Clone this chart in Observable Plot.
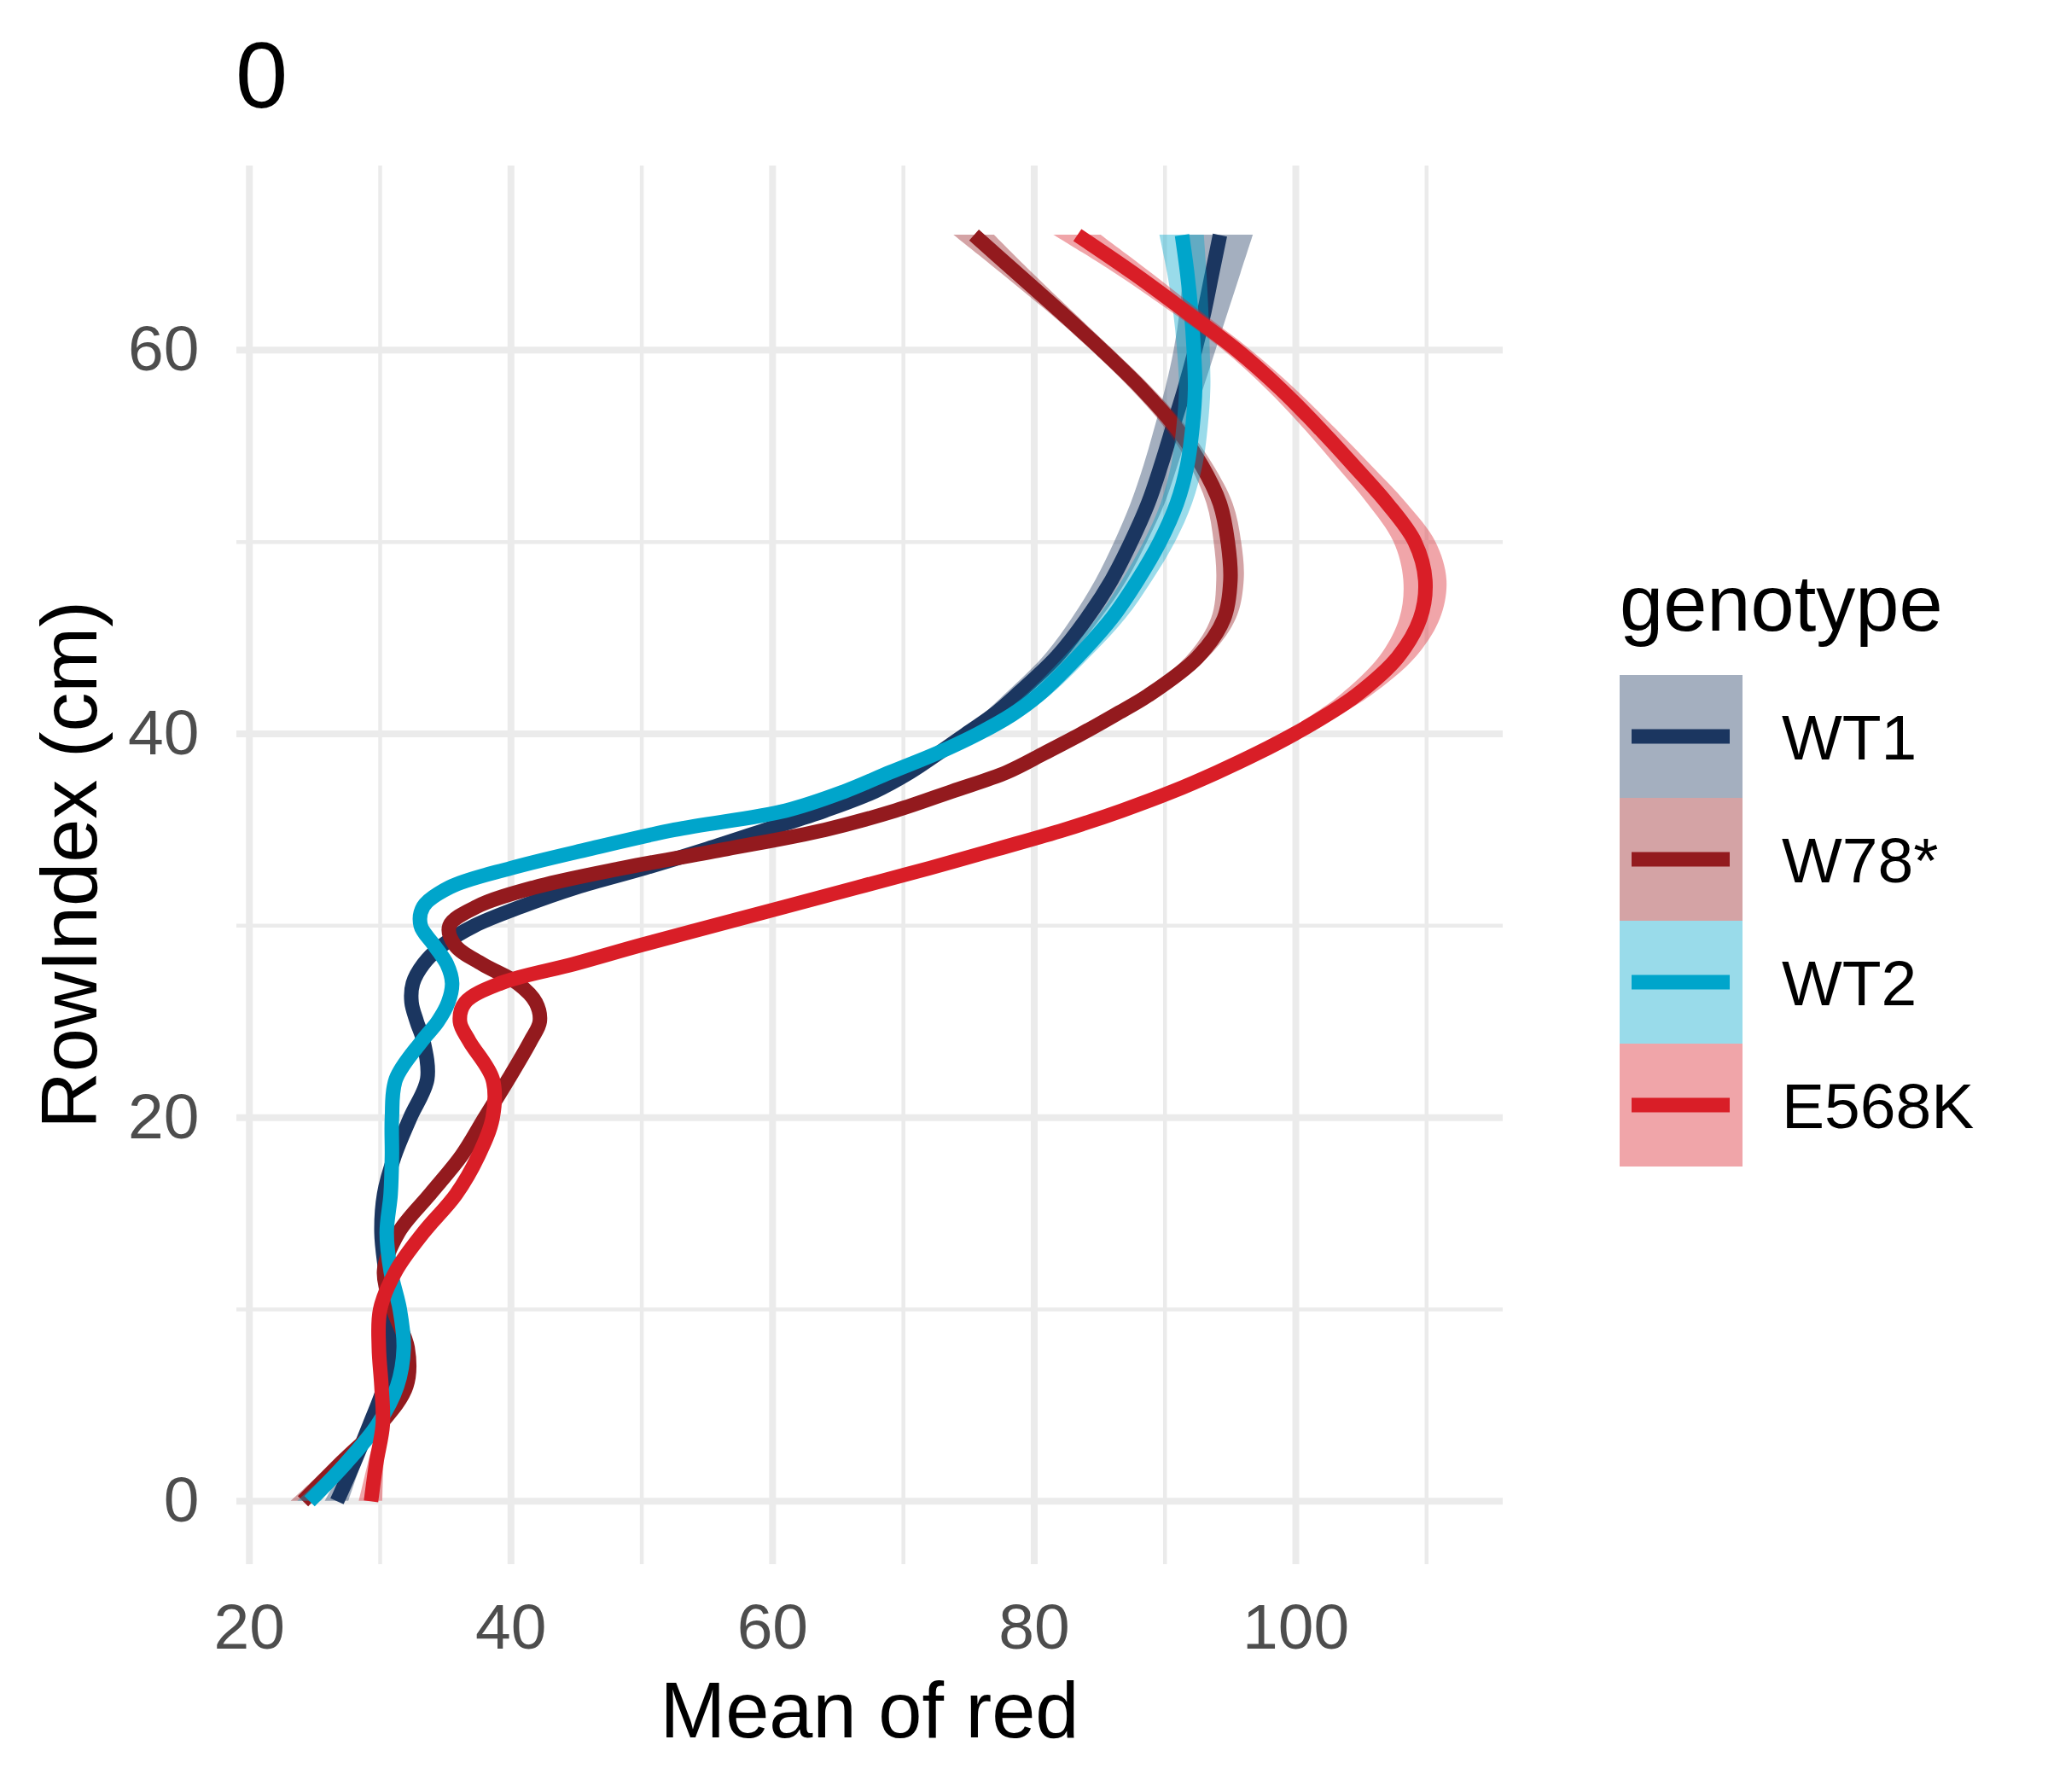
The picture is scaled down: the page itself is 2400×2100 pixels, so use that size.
<!DOCTYPE html>
<html>
<head>
<meta charset="utf-8">
<script src="https://cdn.jsdelivr.net/npm/d3@7"></script>
<script src="https://cdn.jsdelivr.net/npm/@observablehq/plot@0.6"></script>
<style>
  html, body { margin: 0; padding: 0; background: #ffffff; }
  #chart { width: 2400px; height: 2100px; }
</style>
</head>
<body>
<div id="chart"></div>
<script>
// ---- data ----
const genotypes = ["WT1", "W78*", "WT2", "E568K"];
const lineColors = ["#1b3660", "#931a1e", "#00a5cb", "#d91e27"];

const rowIndex = [0, 2, 4, 6, 8, 10, 12, 14, 16, 18, 20, 22,
  24, 25, 26, 27, 28, 29, 30, 31, 32, 33, 34, 35, 36, 37, 38, 39, 40, 41, 42,
  44, 46, 48, 50, 52, 54, 56, 58, 60, 62, 64, 66];

const meanWT1 = [26.7, 28.0, 29.2, 30.3, 30.8, 30.8, 30.4, 30.1, 30.3, 31.1, 32.3, 33.6,
  33.3, 32.8, 32.4, 32.5, 33.3, 34.8, 37.2, 40.8, 45.0, 50.2, 55.0, 59.5, 64.0, 67.8, 70.5, 72.7, 74.8, 76.9, 78.6,
  81.7, 84.0, 85.9, 87.4, 88.7, 89.7, 90.6, 91.5, 92.3, 93.0, 93.6, 94.2];

const meanW78 = [24.1, 27.0, 30.0, 32.0, 32.1, 31.0, 30.3, 31.4, 33.8, 36.2, 38.0, 39.8,
  41.5, 42.2, 41.9, 40.5, 37.8, 35.7, 35.3, 37.4, 41.8, 48.5, 56.5, 64.0, 69.4, 73.7, 77.9, 80.8, 83.6, 86.2, 88.7,
  92.5, 94.5, 95.0, 94.8, 94.2, 92.8, 90.8, 88.2, 85.2, 82.0, 78.7, 75.4];

const meanWT2 = [24.6, 27.4, 29.8, 31.3, 31.8, 31.5, 30.8, 30.5, 30.8, 30.9, 30.9, 31.2,
  33.2, 34.4, 35.2, 35.5, 35.1, 34.1, 33.1, 33.3, 35.3, 40.0, 46.0, 52.5, 61.0, 65.5, 69.0, 72.6, 75.7, 78.3, 80.3,
  83.3, 85.9, 87.9, 89.6, 90.9, 91.7, 92.1, 92.3, 92.2, 92.0, 91.7, 91.3];

const meanE568K = [29.3, 29.7, 30.2, 30.1, 29.9, 30.0, 31.2, 33.3, 35.8, 37.5, 38.6, 38.6,
  36.8, 36.1, 36.5, 39.2, 44.8, 50.0, 55.5, 61.0, 66.5, 72.0, 77.2, 82.3, 86.7, 90.6, 94.0, 97.1, 99.9, 102.4, 104.6,
  107.8, 109.5, 109.9, 109.1, 107.0, 104.4, 101.7, 98.8, 95.5, 91.6, 87.6, 83.3];

// half-width of the confidence band
const seWT1 = [0.9, 0.6, 0.4, 0.4, 0.4, 0.4, 0.4, 0.4, 0.4, 0.4, 0.4, 0.4,
  0.4, 0.4, 0.4, 0.4, 0.4, 0.4, 0.4, 0.4, 0.4, 0.4, 0.4, 0.45, 0.5, 0.55, 0.6, 0.65, 0.7, 0.8, 0.9,
  1.0, 1.1, 1.2, 1.25, 1.3, 1.3, 1.35, 1.45, 1.6, 1.85, 2.2, 2.55];
const seW78 = [0.9, 0.6, 0.4, 0.4, 0.4, 0.4, 0.4, 0.4, 0.4, 0.4, 0.4, 0.4,
  0.4, 0.4, 0.4, 0.4, 0.4, 0.4, 0.4, 0.4, 0.4, 0.4, 0.4, 0.45, 0.5, 0.52, 0.55, 0.58, 0.6, 0.68, 0.75,
  0.85, 0.95, 1.05, 1.05, 1.0, 0.9, 0.85, 0.85, 0.85, 0.95, 1.2, 1.55];
const seWT2 = [0.9, 0.6, 0.4, 0.4, 0.4, 0.4, 0.4, 0.4, 0.4, 0.4, 0.4, 0.4,
  0.4, 0.4, 0.4, 0.4, 0.4, 0.4, 0.4, 0.4, 0.4, 0.4, 0.4, 0.45, 0.5, 0.6, 0.65, 0.72, 0.8, 0.88, 0.95,
  1.0, 1.1, 1.15, 1.2, 1.2, 1.2, 1.2, 1.2, 1.25, 1.35, 1.5, 1.7];
const seE568K = [0.9, 0.6, 0.4, 0.4, 0.4, 0.4, 0.4, 0.4, 0.4, 0.4, 0.4, 0.4,
  0.4, 0.4, 0.4, 0.4, 0.4, 0.4, 0.4, 0.4, 0.4, 0.45, 0.5, 0.55, 0.6, 0.68, 0.75, 0.82, 0.9, 1.05, 1.2,
  1.4, 1.55, 1.65, 1.6, 1.5, 1.35, 1.2, 1.1, 1.05, 1.15, 1.4, 1.8];

const xTicks = [20, 40, 60, 80, 100];
const xMinor = [30, 50, 70, 90, 110];
const yTicks = [0, 20, 40, 60];
const yMinor = [10, 30, 50];

// ---- build tables ----
const means = [meanWT1, meanW78, meanWT2, meanE568K];
const ses = [seWT1, seW78, seWT2, seE568K];
const tables = genotypes.map((g, gi) => rowIndex.map((y, i) => ({
  genotype: g, y, x: means[gi][i], lo: means[gi][i] - ses[gi][i], hi: means[gi][i] + ses[gi][i]
})));

const FONT = "Liberation Sans, Arial, Helvetica, sans-serif";
const marks = [
  Plot.gridX(xMinor, {stroke: "#ebebeb", strokeOpacity: 1, strokeWidth: 4.5}),
  Plot.gridY(yMinor, {stroke: "#ebebeb", strokeOpacity: 1, strokeWidth: 4.5}),
  Plot.gridX(xTicks, {stroke: "#ebebeb", strokeOpacity: 1, strokeWidth: 8}),
  Plot.gridY(yTicks, {stroke: "#ebebeb", strokeOpacity: 1, strokeWidth: 8})
];
genotypes.forEach((g, gi) => {
  marks.push(Plot.areaX(tables[gi], {y: "y", x1: "lo", x2: "hi", fill: lineColors[gi], fillOpacity: 0.4, curve: "catmull-rom"}));
  marks.push(Plot.line(tables[gi], {x: "x", y: "y", stroke: lineColors[gi], strokeWidth: 17, strokeLinecap: "butt", strokeLinejoin: "round", curve: "catmull-rom"}));
});
marks.push(Plot.axisX(xTicks, {tickSize: 0, tickPadding: 45, fontSize: 75, fill: "#4d4d4d", label: null}));
marks.push(Plot.axisY(yTicks, {tickSize: 0, tickPadding: 44, fontSize: 75, fill: "#4d4d4d", label: null}));

const svg = Plot.plot({
  width: 2400,
  height: 2100,
  marginLeft: 277,
  marginRight: 639,
  marginTop: 194,
  marginBottom: 267,
  style: {fontFamily: FONT, fontSize: "75px", background: "#ffffff", overflow: "visible"},
  x: {domain: [19.04, 115.85]},
  y: {domain: [-3.3, 69.6]},
  marks
});

const s = d3.select(svg);
// title
s.append("text").attr("x", 276).attr("y", 126).attr("text-anchor", "start")
  .attr("font-size", 110).attr("fill", "#000").style("font-family", FONT).text("0");
// axis titles
s.append("text").attr("x", 1019).attr("y", 2036).attr("text-anchor", "middle")
  .attr("font-size", 92).attr("fill", "#000").style("font-family", FONT).text("Mean of red");
s.append("text").attr("transform", "translate(112.5,1013.5) rotate(-90)").attr("text-anchor", "middle")
  .attr("font-size", 92).attr("fill", "#000").style("font-family", FONT).text("RowIndex (cm)");

// legend
const lg = s.append("g");
lg.append("text").attr("x", 1898).attr("y", 739).attr("text-anchor", "start")
  .attr("font-size", 92).attr("fill", "#000").style("font-family", FONT).text("genotype");
genotypes.forEach((g, gi) => {
  const top = 791 + gi * 144;
  lg.append("rect").attr("x", 1898).attr("y", top).attr("width", 144).attr("height", 144)
    .attr("fill", lineColors[gi]).attr("fill-opacity", 0.4);
  lg.append("rect").attr("x", 1912).attr("y", top + 72 - 8.5).attr("width", 115).attr("height", 17)
    .attr("fill", lineColors[gi]);
  lg.append("text").attr("x", 2088).attr("y", top + 72 + 26.8).attr("text-anchor", "start")
    .attr("font-size", 75).attr("fill", "#000").style("font-family", FONT).text(g);
});

document.getElementById("chart").appendChild(svg);
</script>
</body>
</html>
